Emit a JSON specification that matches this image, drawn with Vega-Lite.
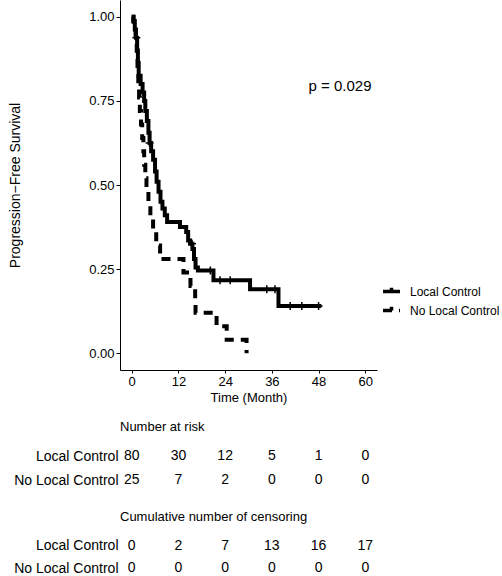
{
  "$schema": "https://vega.github.io/schema/vega-lite/v6.json",
  "padding": {"left": 8, "top": 0, "right": 0, "bottom": 0},
  "background": "white",
  "spacing": 17,
  "config": {
    "view": {"stroke": null},
    "font": "Liberation Sans",
    "axis": {"labelColor": "black", "titleColor": "black", "domainColor": "black", "tickColor": "black", "grid": false, "labelFont": "Liberation Sans", "titleFont": "Liberation Sans"},
    "title": {"color": "black", "font": "Liberation Sans"},
    "legend": {"labelFont": "Liberation Sans"}
  },
  "datasets": {
    "km": [
      {"group": "Local Control", "time": 0, "surv": 1.0},
      {"group": "Local Control", "time": 0.4, "surv": 0.9875},
      {"group": "Local Control", "time": 0.8, "surv": 0.9625},
      {"group": "Local Control", "time": 1.1, "surv": 0.9375},
      {"group": "Local Control", "time": 1.4, "surv": 0.9},
      {"group": "Local Control", "time": 1.6, "surv": 0.8625},
      {"group": "Local Control", "time": 1.8, "surv": 0.825},
      {"group": "Local Control", "time": 2.3, "surv": 0.8},
      {"group": "Local Control", "time": 2.8, "surv": 0.775},
      {"group": "Local Control", "time": 3.2, "surv": 0.75},
      {"group": "Local Control", "time": 3.5, "surv": 0.72},
      {"group": "Local Control", "time": 3.9, "surv": 0.69},
      {"group": "Local Control", "time": 4.3, "surv": 0.655},
      {"group": "Local Control", "time": 4.6, "surv": 0.625},
      {"group": "Local Control", "time": 5.0, "surv": 0.6},
      {"group": "Local Control", "time": 5.5, "surv": 0.575},
      {"group": "Local Control", "time": 6.0, "surv": 0.54},
      {"group": "Local Control", "time": 6.4, "surv": 0.51},
      {"group": "Local Control", "time": 6.9, "surv": 0.48},
      {"group": "Local Control", "time": 7.4, "surv": 0.45},
      {"group": "Local Control", "time": 7.9, "surv": 0.43},
      {"group": "Local Control", "time": 8.5, "surv": 0.41},
      {"group": "Local Control", "time": 9.1, "surv": 0.39},
      {"group": "Local Control", "time": 12.4, "surv": 0.375},
      {"group": "Local Control", "time": 14.0, "surv": 0.36},
      {"group": "Local Control", "time": 14.5, "surv": 0.335},
      {"group": "Local Control", "time": 15.0, "surv": 0.325},
      {"group": "Local Control", "time": 15.6, "surv": 0.31},
      {"group": "Local Control", "time": 16.0, "surv": 0.28},
      {"group": "Local Control", "time": 16.4, "surv": 0.255},
      {"group": "Local Control", "time": 17.0, "surv": 0.246},
      {"group": "Local Control", "time": 21.0, "surv": 0.217},
      {"group": "Local Control", "time": 30.4, "surv": 0.19},
      {"group": "Local Control", "time": 37.7, "surv": 0.14},
      {"group": "Local Control", "time": 48.7, "surv": 0.14},
      {"group": "No Local Control", "time": 0, "surv": 1.0},
      {"group": "No Local Control", "time": 0.5, "surv": 0.96},
      {"group": "No Local Control", "time": 1.0, "surv": 0.92},
      {"group": "No Local Control", "time": 1.3, "surv": 0.88},
      {"group": "No Local Control", "time": 1.5, "surv": 0.84},
      {"group": "No Local Control", "time": 1.7, "surv": 0.8},
      {"group": "No Local Control", "time": 1.9, "surv": 0.76},
      {"group": "No Local Control", "time": 2.1, "surv": 0.72},
      {"group": "No Local Control", "time": 2.4, "surv": 0.68},
      {"group": "No Local Control", "time": 2.7, "surv": 0.64},
      {"group": "No Local Control", "time": 3.0, "surv": 0.6},
      {"group": "No Local Control", "time": 3.2, "surv": 0.56},
      {"group": "No Local Control", "time": 3.5, "surv": 0.52},
      {"group": "No Local Control", "time": 3.8, "surv": 0.48},
      {"group": "No Local Control", "time": 4.3, "surv": 0.44},
      {"group": "No Local Control", "time": 4.8, "surv": 0.4},
      {"group": "No Local Control", "time": 5.5, "surv": 0.36},
      {"group": "No Local Control", "time": 6.3, "surv": 0.32},
      {"group": "No Local Control", "time": 7.3, "surv": 0.28},
      {"group": "No Local Control", "time": 13.3, "surv": 0.24},
      {"group": "No Local Control", "time": 15.1, "surv": 0.2},
      {"group": "No Local Control", "time": 16.3, "surv": 0.16},
      {"group": "No Local Control", "time": 16.4, "surv": 0.12},
      {"group": "No Local Control", "time": 21.8, "surv": 0.08},
      {"group": "No Local Control", "time": 24.4, "surv": 0.04},
      {"group": "No Local Control", "time": 29.5, "surv": 0.0}
    ],
    "cens": [
      {"time": 1.2, "surv": 0.9375},
      {"time": 4.6, "surv": 0.625},
      {"time": 15.5, "surv": 0.325},
      {"time": 20.2, "surv": 0.246},
      {"time": 22.7, "surv": 0.217},
      {"time": 25.3, "surv": 0.217},
      {"time": 34.7, "surv": 0.19},
      {"time": 36.8, "surv": 0.19},
      {"time": 40.7, "surv": 0.14},
      {"time": 43.7, "surv": 0.14},
      {"time": 48.0, "surv": 0.14}
    ],
    "risk": [
      {"group": "Local Control", "time": 0, "n": 80},
      {"group": "Local Control", "time": 12, "n": 30},
      {"group": "Local Control", "time": 24, "n": 12},
      {"group": "Local Control", "time": 36, "n": 5},
      {"group": "Local Control", "time": 48, "n": 1},
      {"group": "Local Control", "time": 60, "n": 0},
      {"group": "No Local Control", "time": 0, "n": 25},
      {"group": "No Local Control", "time": 12, "n": 7},
      {"group": "No Local Control", "time": 24, "n": 2},
      {"group": "No Local Control", "time": 36, "n": 0},
      {"group": "No Local Control", "time": 48, "n": 0},
      {"group": "No Local Control", "time": 60, "n": 0}
    ],
    "censtab": [
      {"group": "Local Control", "time": 0, "n": 0},
      {"group": "Local Control", "time": 12, "n": 2},
      {"group": "Local Control", "time": 24, "n": 7},
      {"group": "Local Control", "time": 36, "n": 13},
      {"group": "Local Control", "time": 48, "n": 16},
      {"group": "Local Control", "time": 60, "n": 17},
      {"group": "No Local Control", "time": 0, "n": 0},
      {"group": "No Local Control", "time": 12, "n": 0},
      {"group": "No Local Control", "time": 24, "n": 0},
      {"group": "No Local Control", "time": 36, "n": 0},
      {"group": "No Local Control", "time": 48, "n": 0},
      {"group": "No Local Control", "time": 60, "n": 0}
    ]
  },
  "vconcat": [
    {
      "width": 257,
      "height": 370,
      "layer": [
        {
          "data": {"name": "km"},
          "mark": {"type": "line", "interpolate": "step-after", "color": "black", "strokeWidth": 4, "strokeCap": "butt"},
          "encoding": {
            "x": {"field": "time", "type": "quantitative", "scale": {"domain": [-3, 63], "nice": false, "zero": false},
              "axis": {"values": [0, 12, 24, 36, 48, 60], "tickSize": 3, "labelPadding": 2, "labelFontSize": 13, "title": "Time (Month)", "titleFontSize": 13, "titleFontWeight": "normal", "titlePadding": 3}},
            "y": {"field": "surv", "type": "quantitative", "scale": {"domain": [-0.05, 1.05], "nice": false, "zero": false},
              "axis": {"values": [0, 0.25, 0.5, 0.75, 1], "format": ".2f", "tickSize": 4, "labelPadding": 2, "labelFontSize": 13, "minExtent": 34, "maxExtent": 34, "title": "Progression\u2212Free Survival", "titleFontSize": 14, "titleFontWeight": "normal", "titlePadding": 64}},
            "strokeDash": {"field": "group", "type": "nominal",
              "scale": {"domain": ["Local Control", "No Local Control"], "range": [[1, 0], [9, 7]]},
              "legend": {"title": null, "orient": "none", "legendX": 261, "legendY": 281, "symbolType": "M-1,0H1M0,0V-0.45", "symbolSize": 289, "symbolStrokeWidth": 3.5, "symbolStrokeColor": "black", "symbolFillColor": "transparent", "labelFontSize": 12, "labelColor": "black", "labelOffset": 8, "rowPadding": 0}}
          }
        },
        {
          "data": {"name": "cens"},
          "mark": {"type": "point", "shape": "M0,-1V1M-1,0H1", "filled": false, "color": "black", "strokeWidth": 1.5, "size": 64, "opacity": 1},
          "encoding": {
            "x": {"field": "time", "type": "quantitative"},
            "y": {"field": "surv", "type": "quantitative"}
          }
        },
        {
          "data": {"values": [{"label": "p = 0.029"}]},
          "mark": {"type": "text", "fontSize": 15, "color": "black"},
          "encoding": {
            "x": {"datum": 53.5},
            "y": {"datum": 0.795},
            "text": {"field": "label"}
          }
        }
      ]
    },
    {
      "width": 257,
      "height": 43,
      "data": {"name": "risk"},
      "title": {"text": "Number at risk", "anchor": "start", "frame": "group", "fontSize": 13, "fontWeight": "normal", "offset": 15},
      "mark": {"type": "text", "fontSize": 14, "color": "black"},
      "encoding": {
        "x": {"field": "time", "type": "quantitative", "scale": {"domain": [-3, 63], "nice": false, "zero": false}, "axis": null},
        "y": {"field": "group", "type": "nominal", "scale": {"type": "point", "domain": ["Local Control", "No Local Control"], "padding": 0.396, "align": 0.342},
          "axis": {"title": null, "domain": false, "ticks": false, "tickSize": 0, "labelPadding": 2, "labelFontSize": 14, "minExtent": 112, "maxExtent": 112}},
        "text": {"field": "n"}
      }
    },
    {
      "width": 257,
      "height": 36,
      "data": {"name": "censtab"},
      "title": {"text": "Cumulative number of censoring", "anchor": "start", "frame": "group", "fontSize": 13, "fontWeight": "normal", "offset": 15},
      "mark": {"type": "text", "fontSize": 14, "color": "black"},
      "encoding": {
        "x": {"field": "time", "type": "quantitative", "scale": {"domain": [-3, 63], "nice": false, "zero": false}, "axis": null},
        "y": {"field": "group", "type": "nominal", "scale": {"type": "point", "domain": ["Local Control", "No Local Control"], "padding": 0.283},
          "axis": {"title": null, "domain": false, "ticks": false, "tickSize": 0, "labelPadding": 2, "labelFontSize": 14, "minExtent": 112, "maxExtent": 112}},
        "text": {"field": "n"}
      }
    }
  ]
}
